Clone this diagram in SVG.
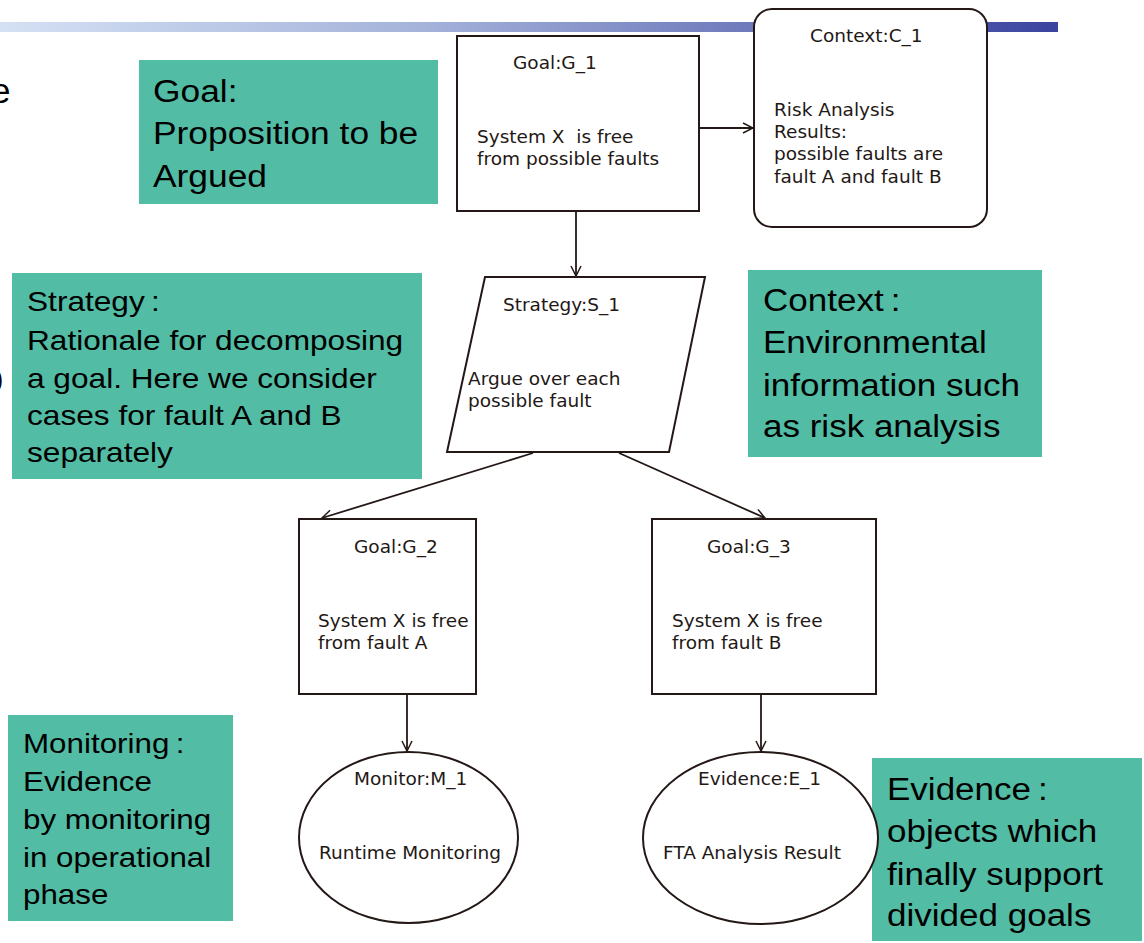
<svg xmlns="http://www.w3.org/2000/svg" width="1144" height="943" viewBox="0 0 1144 943">
  <defs>
    <linearGradient id="barGrad" x1="0" y1="0" x2="1" y2="0">
      <stop offset="0" stop-color="#d4e1f4"/>
      <stop offset="0.4" stop-color="#a5b2da"/>
      <stop offset="1" stop-color="#3a449f"/>
    </linearGradient>
    <marker id="arrow" viewBox="0 0 12 12" refX="11" refY="6" markerWidth="12" markerHeight="12" markerUnits="userSpaceOnUse" orient="auto">
      <path d="M1,1 L11,6 L1,11" fill="none" stroke="#231815" stroke-width="1.5"/>
    </marker>
  </defs>
  <style>
    .note { fill: #52bca5; }
    .noteText { font-family: "Liberation Sans", Arial, sans-serif; fill: #000; }
    .shape { fill: #fff; stroke: #231815; stroke-width: 2; }
    .label { font-family: "DejaVu Sans", sans-serif; font-size: 18.5px; fill: #231815; }
    .edge { fill: none; stroke: #231815; stroke-width: 1.8; marker-end: url(#arrow); }
  </style>

  <rect width="1144" height="943" fill="#fff"/>

  <!-- title bar -->
  <rect x="0" y="22" width="1058" height="10" fill="url(#barGrad)"/>

  <!-- clipped remnants of slide text at the left edge -->
  <text x="-9" y="103" class="noteText" font-size="35">e</text>
  <text x="-6" y="388" class="noteText" font-size="28">)</text>

  <!-- annotation boxes -->
  <g id="note-goal">
    <rect x="139" y="60" width="299" height="144" class="note"/>
    <g transform="translate(153 0) scale(1.14 1)" class="noteText" font-size="31">
      <text x="0" y="102">Goal:</text>
      <text x="0" y="144">Proposition to be</text>
      <text x="0" y="187">Argued</text>
    </g>
  </g>

  <g id="note-strategy">
    <rect x="12" y="273" width="410" height="206" class="note"/>
    <g transform="translate(27 0) scale(1.13 1)" class="noteText" font-size="28">
      <text x="0" y="311">Strategy&#8201;:</text>
      <text x="0" y="350">Rationale for decomposing</text>
      <text x="0" y="388">a goal. Here we consider</text>
      <text x="0" y="425">cases for fault A and B</text>
      <text x="0" y="462">separately</text>
    </g>
  </g>

  <g id="note-context">
    <rect x="748" y="270" width="294" height="187" class="note"/>
    <g transform="translate(763 0) scale(1.13 1)" class="noteText" font-size="31">
      <text x="0" y="311">Context&#8201;:</text>
      <text x="0" y="353">Environmental</text>
      <text x="0" y="396">information such</text>
      <text x="0" y="437">as risk analysis</text>
    </g>
  </g>

  <g id="note-monitoring">
    <rect x="8" y="715" width="225" height="206" class="note"/>
    <g transform="translate(23 0) scale(1.12 1)" class="noteText" font-size="28">
      <text x="0" y="753">Monitoring&#8201;:</text>
      <text x="0" y="791">Evidence</text>
      <text x="0" y="829">by monitoring</text>
      <text x="0" y="867">in operational</text>
      <text x="0" y="904">phase</text>
    </g>
  </g>

  <g id="note-evidence">
    <rect x="872" y="758" width="270" height="183" class="note"/>
    <g transform="translate(887 0) scale(1.13 1)" class="noteText" font-size="31">
      <text x="0" y="800">Evidence&#8201;:</text>
      <text x="0" y="842">objects which</text>
      <text x="0" y="885">finally support</text>
      <text x="0" y="926">divided goals</text>
    </g>
  </g>

  <!-- connectors -->
  <g id="connectors">
    <line x1="700" y1="128" x2="753" y2="128" class="edge"/>
    <line x1="576" y1="211" x2="576" y2="276" class="edge"/>
    <line x1="533" y1="453" x2="322" y2="518" class="edge"/>
    <line x1="619" y1="453" x2="765" y2="518" class="edge"/>
    <line x1="407" y1="695" x2="407" y2="751" class="edge"/>
    <line x1="761" y1="695" x2="761" y2="751" class="edge"/>
  </g>

  <!-- argument nodes -->
  <g id="G_1">
    <rect x="457" y="36" width="242" height="175" class="shape"/>
    <text x="513" y="69" class="label">Goal:G_1</text>
    <text x="477" y="143" class="label" xml:space="preserve">System X  is free</text>
    <text x="477" y="165" class="label">from possible faults</text>
  </g>

  <g id="C_1">
    <rect x="754" y="9" width="233" height="218" rx="18" ry="18" class="shape"/>
    <text x="810" y="42" class="label">Context:C_1</text>
    <text x="774" y="116" class="label">Risk Analysis</text>
    <text x="774" y="138" class="label">Results:</text>
    <text x="774" y="160" class="label">possible faults are</text>
    <text x="774" y="183" class="label">fault A and fault B</text>
  </g>

  <g id="S_1">
    <polygon points="485,277 705,277 669,452 447,452" class="shape"/>
    <text x="503" y="311" class="label">Strategy:S_1</text>
    <text x="468" y="385" class="label">Argue over each</text>
    <text x="468" y="407" class="label">possible fault</text>
  </g>

  <g id="G_2">
    <rect x="299" y="519" width="177" height="175" class="shape"/>
    <text x="354" y="553" class="label">Goal:G_2</text>
    <text x="318" y="627" class="label">System X is free</text>
    <text x="318" y="649" class="label">from fault A</text>
  </g>

  <g id="G_3">
    <rect x="652" y="519" width="224" height="175" class="shape"/>
    <text x="707" y="553" class="label">Goal:G_3</text>
    <text x="672" y="627" class="label">System X is free</text>
    <text x="672" y="649" class="label">from fault B</text>
  </g>

  <g id="M_1">
    <ellipse cx="408.5" cy="837.5" rx="109.5" ry="85.5" class="shape"/>
    <text x="354" y="785" class="label">Monitor:M_1</text>
    <text x="319" y="859" class="label">Runtime Monitoring</text>
  </g>

  <g id="E_1">
    <ellipse cx="760.5" cy="838" rx="117.5" ry="86" class="shape"/>
    <text x="698" y="785" class="label">Evidence:E_1</text>
    <text x="663" y="859" class="label">FTA Analysis Result</text>
  </g>
</svg>
